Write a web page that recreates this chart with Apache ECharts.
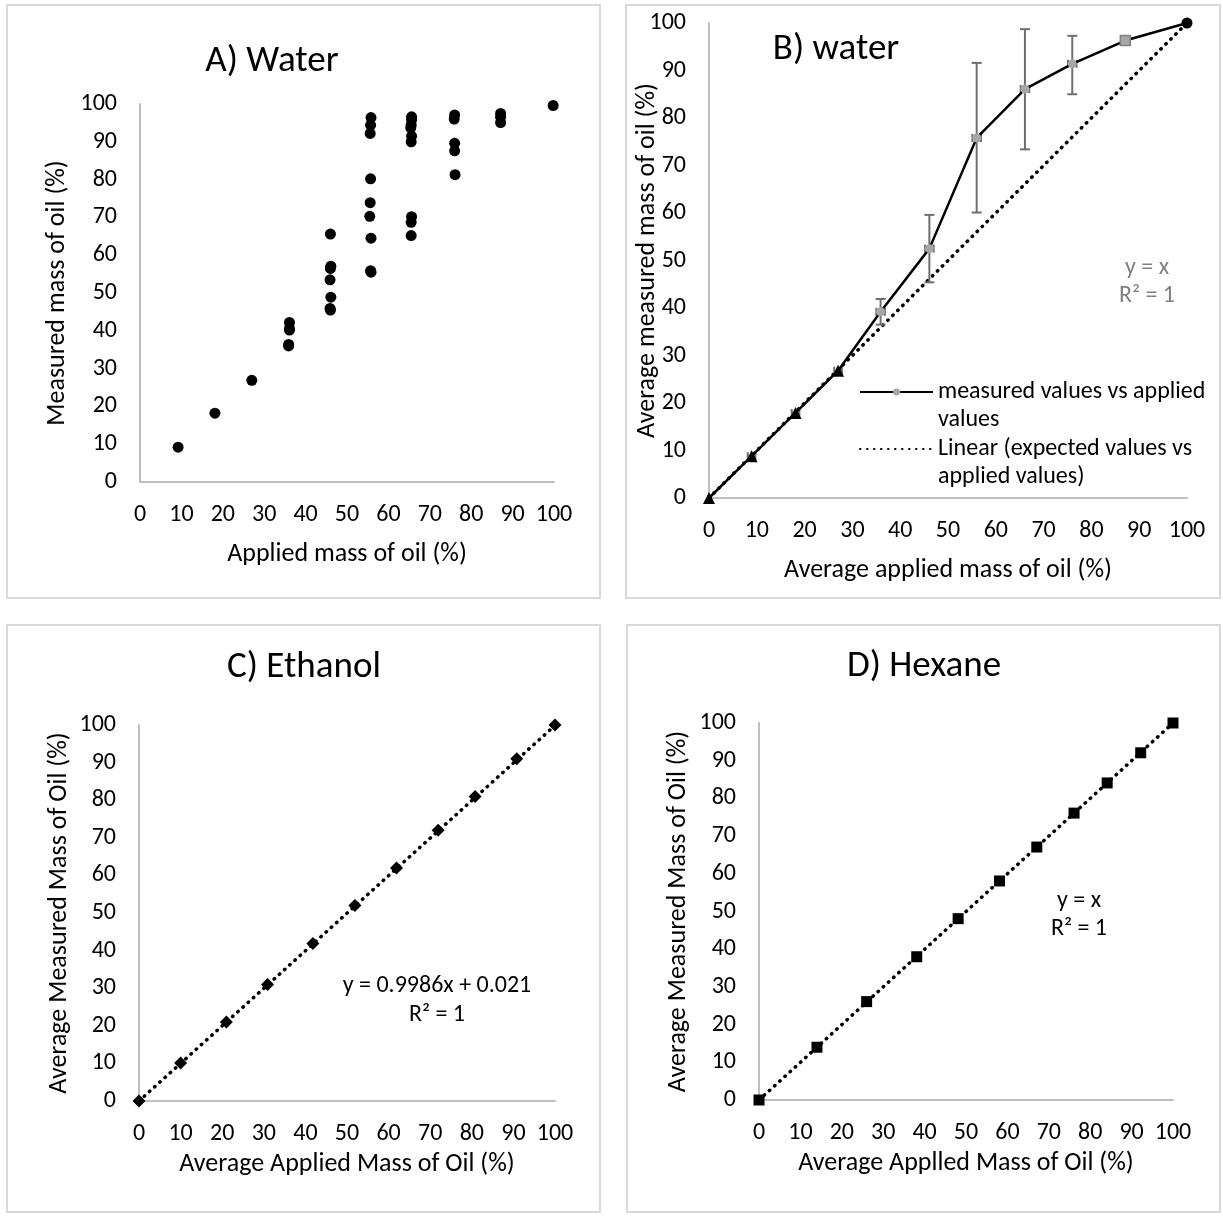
<!DOCTYPE html>
<html>
<head>
<meta charset="utf-8">
<script src="https://cdn.jsdelivr.net/npm/echarts@6/dist/echarts.min.js"></script>
<style>
  html, body { margin: 0; padding: 0; background: #fff; }
  #chart { width: 1223px; height: 1216px; }
</style>
</head>
<body>
<div id="chart"></div>
<script>
// ---------- DATA ----------
const axisTicks = [0, 10, 20, 30, 40, 50, 60, 70, 80, 90, 100];

// A) Water - individual measurements
const waterAppliedA = [9.2, 18.1, 27.0,
  36.1, 36.1, 36.1, 35.9, 35.9,
  46.0, 46.1, 46.0, 45.9, 46.1, 45.9, 46.0,
  55.8, 55.7, 55.6, 55.7, 55.6, 55.5, 55.8, 55.7, 55.8,
  65.6, 65.6, 65.5, 65.4, 65.6, 65.5, 65.6, 65.5, 65.5,
  76.0, 75.9, 76.0, 76.0, 76.1,
  87.1, 87.1, 87.1,
  99.8];
const waterMeasuredA = [9.2, 18.2, 26.9,
  42.2, 40.6, 40.2, 36.4, 36.0,
  65.6, 57.1, 56.5, 53.5, 48.9, 45.9, 45.5,
  96.4, 94.4, 92.2, 80.2, 73.9, 70.3, 64.5, 55.9, 55.5,
  96.6, 95.8, 94.4, 93.7, 91.5, 90.0, 70.2, 68.7, 65.2,
  97.1, 96.0, 89.6, 87.6, 81.3,
  97.5, 96.5, 95.1,
  99.6];

// B) water - averages
const waterAppliedB = [0, 8.9, 18.1, 27.0, 35.9, 46.1, 56.0, 66.1, 76.0, 87.1, 100];
const waterMeasuredB = [0, 8.8, 17.9, 26.8, 39.2, 52.5, 75.8, 86.1, 91.4, 96.3, 100];
const waterErrLowB  = [0, 8.8, 17.9, 26.8, 36.5, 45.4, 60.1, 73.4, 85.0, 96.3, 100];
const waterErrHighB = [0, 8.8, 17.9, 26.8, 41.9, 59.6, 91.6, 98.7, 97.3, 96.3, 100];
const waterXErrB    = [0, 0.8, 0.8, 0.8, 0.9, 0.9, 0.9, 0.9, 0.9, 0, 0];
const waterMarkerB  = ['triangle', 'triangle', 'triangle', 'triangle', 'circle', 'circle', 'circle', 'circle', 'circle', 'rect', 'circle'];
const expectedLineX = [0, 100];
const expectedLineY = [0, 100];

// C) Ethanol
const ethanolApplied = [0, 10.0, 21.0, 30.9, 41.8, 51.9, 61.9, 71.9, 80.8, 90.8, 100];
const ethanolMeasured = [0, 10.1, 21.0, 31.0, 41.9, 52.0, 62.0, 72.0, 81.0, 91.0, 100];
const ethanolTrendX = [0, 100];
const ethanolTrendY = [0.021, 99.881];

// D) Hexane
const hexaneApplied = [0, 14.0, 26.0, 38.1, 48.1, 58.1, 67.1, 76.1, 84.1, 92.2, 100];
const hexaneMeasured = [0, 14.0, 26.1, 38.0, 48.1, 58.1, 67.1, 76.1, 84.1, 92.1, 100];
const hexaneTrendX = [0, 100];
const hexaneTrendY = [0, 100];

// ---------- STYLE ----------
const FONT = 'Carlito, Calibri, Lato, sans-serif';
const TICK_FS = 24;
const NAME_FS = 26;
const AXIS_COLOR = '#bfbfbf';
const DOT_LINE = { color: '#000', width: 3.5, type: [0.5, 6.5], cap: 'round' };

const zip = (a, b) => a.map((v, i) => [v, b[i]]);

function xAxis(gi, name, gap) {
  return {
    type: 'value', gridIndex: gi, min: 0, max: 100, interval: 10,
    name: name, nameLocation: 'middle', nameGap: gap, nameMoveOverlap: false,
    nameTextStyle: { fontFamily: FONT, fontSize: NAME_FS, color: '#000' },
    axisLine: { show: true, onZero: false, lineStyle: { color: AXIS_COLOR, width: 2 } },
    axisTick: { show: false }, splitLine: { show: false },
    axisLabel: { fontFamily: FONT, fontSize: TICK_FS, color: '#000', margin: 21,
      formatter: v => axisTicks.includes(v) ? String(v) : '' }
  };
}
function yAxis(gi, name, gap) {
  return {
    type: 'value', gridIndex: gi, min: 0, max: 100, interval: 10,
    name: name, nameLocation: 'middle', nameGap: gap, nameRotate: 90, nameMoveOverlap: false,
    nameTextStyle: { fontFamily: FONT, fontSize: NAME_FS, color: '#000' },
    axisLine: { show: true, lineStyle: { color: AXIS_COLOR, width: 2 } },
    axisTick: { show: false }, splitLine: { show: false },
    axisLabel: { fontFamily: FONT, fontSize: TICK_FS, color: '#000', margin: 23,
      formatter: v => axisTicks.includes(v) ? String(v) : '' }
  };
}
function panelRect(x, y, w, h) {
  return { type: 'rect', shape: { x: x, y: y, width: w, height: h }, silent: true,
    style: { fill: 'none', stroke: '#d9d9d9', lineWidth: 2 }, z: -1 };
}
function label(text, x, y, fs, color) {
  return { type: 'text', x: x, y: y, silent: true,
    style: { text: text, fontFamily: FONT, fontSize: fs, fill: color || '#000', align: 'center', verticalAlign: 'middle' } };
}

// a leading blank line keeps the legend icon level with the first text line
const measuredName = ' \nmeasured values vs applied\nvalues';
const linearName = ' \nLinear (expected values vs\napplied values)';

const bData = waterAppliedB.map((x, i) => ({
  value: [x, waterMeasuredB[i]],
  symbol: waterMarkerB[i],
  symbolSize: waterMarkerB[i] === 'triangle' ? 12 : (waterMarkerB[i] === 'rect' ? 10 : (i === waterAppliedB.length - 1 ? 11 : 9)),
  itemStyle: (i < 4 || i === waterAppliedB.length - 1)
    ? { color: '#000' }
    : (waterMarkerB[i] === 'rect' ? { color: '#a6a6a6', borderColor: '#7f7f7f', borderWidth: 1.5 } : { color: '#a6a6a6' })
}));

const errData = waterAppliedB.map((x, i) => [x, waterMeasuredB[i], waterErrLowB[i], waterErrHighB[i], waterXErrB[i]]);

const LEG_L = 28;

const option = {
  animation: false,
  backgroundColor: '#fff',
  textStyle: { fontFamily: FONT },
  grid: [
    { left: 140, top: 104, width: 414, height: 378 },
    { left: 709, top: 23, width: 478, height: 475 },
    { left: 139, top: 725, width: 416, height: 376 },
    { left: 759, top: 723, width: 414, height: 377 }
  ],
  xAxis: [
    xAxis(0, 'Applied mass of oil (%)', 59),
    xAxis(1, 'Average applied mass of oil (%)', 59),
    xAxis(2, 'Average Applied Mass of Oil (%)', 50),
    xAxis(3, 'Average Applled Mass of Oil (%)', 50)
  ],
  yAxis: [
    yAxis(0, 'Measured mass of oil (%)', 70),
    yAxis(1, 'Average measured mass of oil (%)', 49),
    yAxis(2, 'Average Measured Mass of Oil (%)', 67),
    yAxis(3, 'Average Measured Mass of Oil (%)', 68)
  ],
  legend: {
    left: 859, top: 392 - 1.5 * LEG_L, orient: 'vertical', selectedMode: false, padding: 0,
    itemWidth: 73, itemHeight: 9, itemGap: 57 - 3 * LEG_L,
    data: [
      { name: measuredName },
      { name: linearName, itemStyle: { color: 'rgba(0,0,0,0)', opacity: 0 } }
    ],
    textStyle: { fontFamily: FONT, fontSize: 24, lineHeight: LEG_L, color: '#000' }
  },
  graphic: [
    panelRect(7, 5, 593, 593),
    panelRect(626, 5, 594, 593),
    panelRect(7, 625, 593, 587),
    panelRect(627, 625, 593, 587),
    label('A) Water', 272, 62, 37),
    label('B) water', 836, 50, 37),
    label('C) Ethanol', 304, 668, 37),
    label('D) Hexane', 924, 667, 37),
    label('y = x', 1147, 268, 24, '#7f7f7f'),
    label('R² = 1', 1147, 296, 24, '#7f7f7f'),
    label('y = 0.9986x + 0.021', 437, 986, 24),
    label('R² = 1', 437, 1015, 24),
    label('y = x', 1079, 901, 24),
    label('R² = 1', 1079, 929, 24)
  ],
  series: [
    {
      name: 'A water', type: 'scatter', xAxisIndex: 0, yAxisIndex: 0,
      data: zip(waterAppliedA, waterMeasuredA), symbol: 'circle', symbolSize: 11,
      itemStyle: { color: '#000', opacity: 1 }
    },
    {
      name: linearName, type: 'line', xAxisIndex: 1, yAxisIndex: 1,
      data: zip(expectedLineX, expectedLineY), symbol: 'none', showSymbol: false,
      lineStyle: DOT_LINE, itemStyle: { color: '#000' }, z: 1
    },
    {
      name: 'error bars', type: 'custom', xAxisIndex: 1, yAxisIndex: 1, z: 2,
      data: errData,
      renderItem: function (params, api) {
        const x = api.value(0), y = api.value(1), lo = api.value(2), hi = api.value(3), xe = api.value(4);
        const children = [];
        const st = { stroke: '#6f6f6f', lineWidth: 2 };
        if (hi - lo > 0.01) {
          const pLo = api.coord([x, lo]), pHi = api.coord([x, hi]);
          children.push({ type: 'line', shape: { x1: pLo[0], y1: pLo[1], x2: pHi[0], y2: pHi[1] }, style: st });
          children.push({ type: 'line', shape: { x1: pLo[0] - 5, y1: pLo[1], x2: pLo[0] + 5, y2: pLo[1] }, style: st });
          children.push({ type: 'line', shape: { x1: pHi[0] - 5, y1: pHi[1], x2: pHi[0] + 5, y2: pHi[1] }, style: st });
        }
        if (xe > 0) {
          const pL = api.coord([x - xe, y]), pR = api.coord([x + xe, y]);
          children.push({ type: 'line', shape: { x1: pL[0], y1: pL[1], x2: pR[0], y2: pR[1] }, style: st });
          children.push({ type: 'line', shape: { x1: pL[0], y1: pL[1] - 4, x2: pL[0], y2: pL[1] + 4 }, style: st });
          children.push({ type: 'line', shape: { x1: pR[0], y1: pR[1] - 4, x2: pR[0], y2: pR[1] + 4 }, style: st });
        }
        return { type: 'group', children: children };
      }
    },
    {
      name: measuredName, type: 'line', xAxisIndex: 1, yAxisIndex: 1, z: 3,
      data: bData, symbol: 'circle', symbolSize: 9, showSymbol: true,
      lineStyle: { color: '#000', width: 2.5 }, itemStyle: { color: '#a6a6a6', opacity: 1 }
    },
    {
      name: 'C trend', type: 'line', xAxisIndex: 2, yAxisIndex: 2,
      data: zip(ethanolTrendX, ethanolTrendY), symbol: 'none', lineStyle: DOT_LINE, z: 1
    },
    {
      name: 'C ethanol', type: 'scatter', xAxisIndex: 2, yAxisIndex: 2,
      data: zip(ethanolApplied, ethanolMeasured), symbol: 'diamond', symbolSize: 13,
      itemStyle: { color: '#000', opacity: 1 }, z: 2
    },
    {
      name: 'D trend', type: 'line', xAxisIndex: 3, yAxisIndex: 3,
      data: zip(hexaneTrendX, hexaneTrendY), symbol: 'none', lineStyle: DOT_LINE, z: 1
    },
    {
      name: 'D hexane', type: 'scatter', xAxisIndex: 3, yAxisIndex: 3,
      data: zip(hexaneApplied, hexaneMeasured), symbol: 'rect', symbolSize: 11,
      itemStyle: { color: '#000', opacity: 1 }, z: 2
    }
  ]
};

const chart = echarts.init(document.getElementById('chart'), null, { renderer: 'canvas' });
chart.setOption(option);
</script>
</body>
</html>
